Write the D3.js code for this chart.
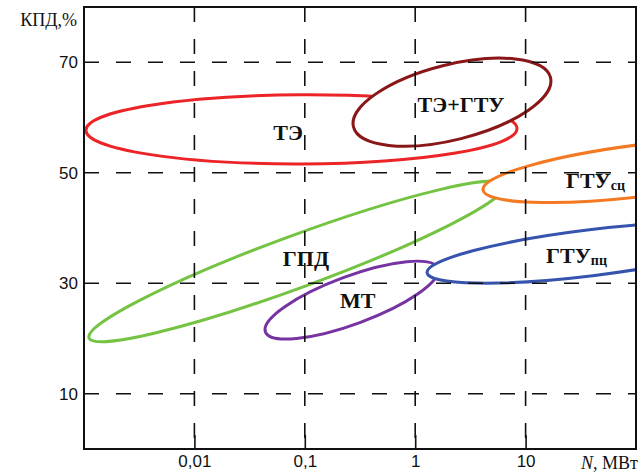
<!DOCTYPE html>
<html>
<head>
<meta charset="utf-8">
<script src="https://cdn.jsdelivr.net/npm/d3@7"></script>
<style>
  body { margin: 0; background: #fff; }
  svg { display: block; }
</style>
</head>
<body>
<svg id="chart" width="643" height="473"></svg>
<script>
// regions on the N - efficiency plane (each ellipse: start/end of its long axis + half width in %)
const regions = ["ТЭ", "ТЭ+ГТУ", "ГПД", "МТ", "ГТУсц", "ГТУпц"];
const nStart = [0.00104, 0.276, 0.00111, 0.044, 4.11, 1.28];
const etaStart = [57.7, 58.3, 20.1, 21.2, 46.9, 31.9];
const nEnd = [8.36, 16.8, 6.5, 1.6, 3767, 1148];
const etaEnd = [58.0, 67.25, 47.8, 32.7, 54.1, 39.1];
const etaHalfWidth = [6.25, 6.8, 4.7, 4.34, 4.7, 4.16];
const colors = ["#ec2327", "#8a1717", "#74c343", "#7634a2", "#f37a22", "#3653ad"];

// label anchors
const labelMain = ["ТЭ", "ТЭ+ГТУ", "ГПД", "МТ", "ГТУ", "ГТУ"];
const labelSub = ["", "", "", "", "сц", "пц"];
const labelN = [0.0705, 2.6, 0.1025, 0.302, 23.2, 15.3];
const labelEta = [55.9, 61, 33.1, 25.5, 47.2, 33.7];
const labelAnchor = ["middle", "middle", "middle", "middle", "start", "start"];

const xTicks = [0.01, 0.1, 1, 10];
const xTickLabels = ["0,01", "0,1", "1", "10"];
const yTicks = [10, 30, 50, 70];

const svg = d3.select("#chart");
const pLeft = 84, pRight = 636, pTop = 7, pBottom = 449;

const x = d3.scaleLog().domain([0.001, 100]).range([pLeft, pRight]);
const y = d3.scaleLinear().domain([0, 80]).range([pBottom, pTop]);

svg.append("clipPath").attr("id", "plot")
  .append("rect")
  .attr("x", pLeft).attr("y", pTop)
  .attr("width", pRight - pLeft).attr("height", pBottom - pTop);

// ellipses
const ell = svg.append("g").attr("clip-path", "url(#plot)");
regions.forEach((name, i) => {
  const x1 = x(nStart[i]), y1 = y(etaStart[i]);
  const x2 = x(nEnd[i]), y2 = y(etaEnd[i]);
  const cx = (x1 + x2) / 2, cy = (y1 + y2) / 2;
  const a = Math.hypot(x2 - x1, y2 - y1) / 2;
  const b = y(0) - y(etaHalfWidth[i]);
  const ang = Math.atan2(y2 - y1, x2 - x1) * 180 / Math.PI;
  ell.append("ellipse")
    .attr("transform", `translate(${cx},${cy}) rotate(${ang})`)
    .attr("rx", a)
    .attr("ry", b)
    .attr("fill", "#fff")
    .attr("stroke", colors[i])
    .attr("stroke-width", 3);
});

// dashed grid on top
const grid = svg.append("g")
  .attr("stroke", "#111")
  .attr("stroke-width", 1.6)
  .attr("stroke-dasharray", "15 17");

grid.selectAll(".h")
  .data(yTicks)
  .enter()
  .append("line")
  .attr("x1", pLeft).attr("x2", pRight)
  .attr("y1", d => y(d)).attr("y2", d => y(d));

grid.selectAll(".v")
  .data(xTicks)
  .enter()
  .append("line")
  .attr("x1", d => x(d)).attr("x2", d => x(d))
  .attr("y1", pTop).attr("y2", pBottom);

// bottom axis with short inner ticks
svg.append("g")
  .attr("transform", `translate(0,${pBottom})`)
  .call(d3.axisBottom(x).tickValues(xTicks).tickSize(-14).tickPadding(6)
    .tickFormat((d, i) => xTickLabels[i]))
  .call(g => g.select(".domain").remove())
  .call(g => g.selectAll("line").attr("stroke", "#111").attr("stroke-width", 1.6))
  .call(g => g.selectAll("text")
    .attr("fill", "#111")
    .style("font-family", "Liberation Sans, Arial, sans-serif")
    .style("font-size", "17px"));

// left tick labels
svg.append("g")
  .attr("transform", `translate(${pLeft},0)`)
  .call(d3.axisLeft(y).tickValues(yTicks).tickSize(0).tickPadding(6))
  .call(g => g.select(".domain").remove())
  .call(g => g.selectAll("text")
    .attr("fill", "#111")
    .style("font-family", "Liberation Sans, Arial, sans-serif")
    .style("font-size", "17px"));

// frame
svg.append("rect")
  .attr("x", pLeft).attr("y", pTop)
  .attr("width", pRight - pLeft).attr("height", pBottom - pTop)
  .attr("fill", "none")
  .attr("stroke", "#111")
  .attr("stroke-width", 2);

// region labels
const lab = svg.append("g")
  .style("font-family", "Liberation Serif, Times New Roman, serif")
  .style("font-weight", "bold")
  .attr("fill", "#111");

regions.forEach((name, i) => {
  const t = lab.append("text")
    .attr("x", x(labelN[i]))
    .attr("y", y(labelEta[i]))
    .attr("text-anchor", labelAnchor[i])
    .style("font-size", "22px")
    .text(labelMain[i]);
  if (labelSub[i]) {
    t.append("tspan")
      .attr("dy", 2)
      .style("font-size", "14px")
      .text(labelSub[i]);
  }
});

// axis titles
svg.append("text")
  .attr("x", 77).attr("y", 26)
  .attr("text-anchor", "end")
  .style("font-family", "Liberation Serif, Times New Roman, serif")
  .style("font-size", "18px")
  .attr("fill", "#111")
  .text("КПД,%");

const xt = svg.append("text")
  .attr("x", 638).attr("y", 469)
  .attr("text-anchor", "end")
  .style("font-family", "Liberation Serif, Times New Roman, serif")
  .style("font-size", "18px")
  .attr("fill", "#111");
xt.append("tspan").style("font-style", "italic").text("N");
xt.append("tspan").text(", МВт");
</script>
</body>
</html>
